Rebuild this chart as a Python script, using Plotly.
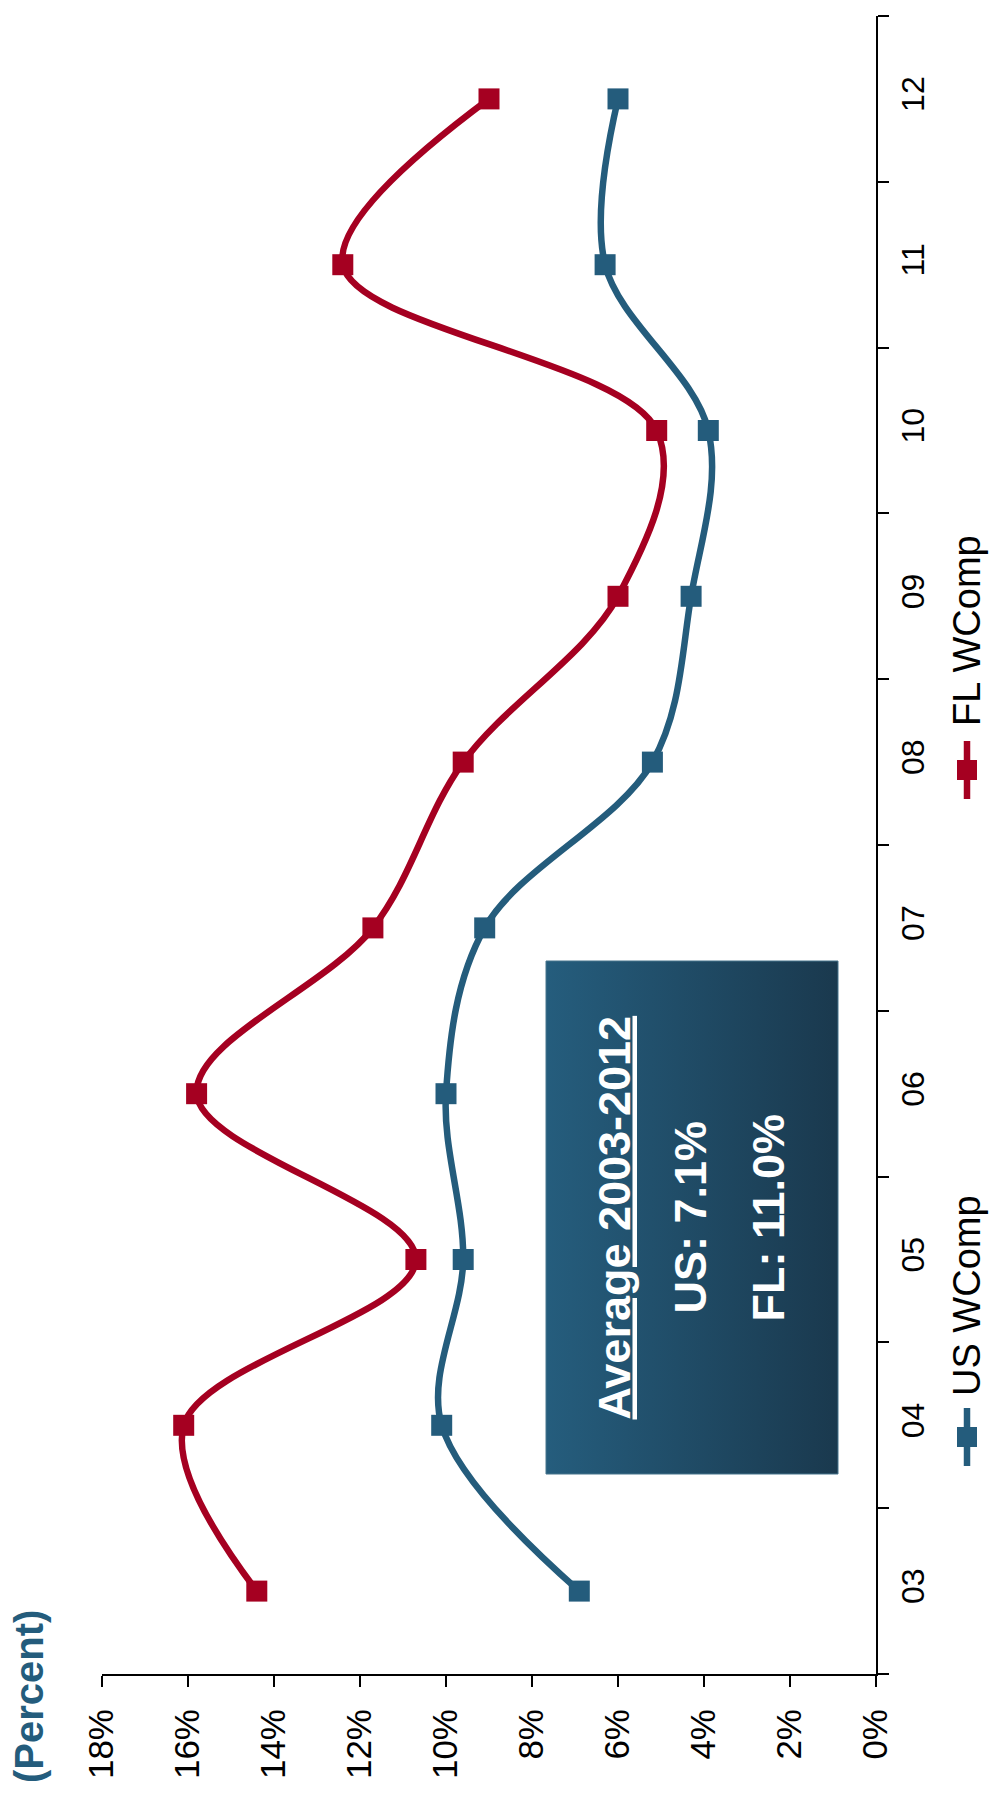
import plotly.graph_objects as go

# Workers' compensation premium growth, 2003-2012
years = ["03", "04", "05", "06", "07", "08", "09", "10", "11", "12"]
us_wcomp = [6.9, 10.1, 9.6, 10.0, 9.1, 5.2, 4.3, 3.9, 6.3, 6.0]
fl_wcomp = [14.4, 16.1, 10.7, 15.8, 11.7, 9.6, 6.0, 5.1, 12.4, 9.0]
series_names = ["US WComp", "FL WComp"]
avg_title = "Average 2003-2012"
avg_lines = ["US: 7.1%", "FL: 11.0%"]

BLUE = "#245C7C"
RED = "#A50021"
FONT = "Liberation Sans, Arial, sans-serif"
W, H = 990, 1801
LINE_W = 6.5

fig = go.Figure()

for name, vals, color in [(series_names[0], us_wcomp, BLUE), (series_names[1], fl_wcomp, RED)]:
    fig.add_trace(go.Scatter(
        x=vals, y=years, name=name, mode="lines+markers",
        line=dict(color=color, width=LINE_W, shape="spline", smoothing=1),
        marker=dict(symbol="square", size=21, color=color),
        xaxis="x", yaxis="y", showlegend=False, cliponaxis=False,
    ))

# Overlay canvas in page pixels for the callout box and the legend
def px_trace(xs, ys, **kw):
    fig.add_trace(go.Scatter(x=xs, y=ys, xaxis="x2", yaxis="y2",
                             showlegend=False, hoverinfo="skip", **kw))

bx0, bx1, by0, by1 = 546, 838, 961, 1474
px_trace([bx0, bx1, bx1, bx0, bx0], [by0, by0, by1, by1, by0],
         mode="lines", fill="toself",
         fillgradient=dict(type="horizontal",
                           colorscale=[[0, "#255D7D"], [1, "#1A394E"]]),
         line=dict(color="#46748C", width=1))

annotations = []
bcy = (by0 + by1) / 2
annotations.append(dict(x=614, y=bcy, text="<b><u>" + avg_title + "</u></b>"))
annotations.append(dict(x=690, y=bcy, text="<b>" + avg_lines[0] + "</b>"))
annotations.append(dict(x=768, y=bcy, text="<b>" + avg_lines[1] + "</b>"))
for a in annotations:
    a.update(xref="x2", yref="y2", showarrow=False, textangle=-90,
             xanchor="center", yanchor="middle",
             font=dict(family=FONT, size=45, color="white"))

# Axis caption
annotations.append(dict(x=29, y=1697, xref="x2", yref="y2", showarrow=False,
                        textangle=-90, xanchor="center", yanchor="middle",
                        text="<b>(Percent)</b>",
                        font=dict(family=FONT, size=40, color=BLUE)))

# Legend drawn rotated alongside the chart
shapes = []
for name, color, cy, ty in [(series_names[0], BLUE, 1437, 1296),
                            (series_names[1], RED, 770, 631)]:
    lx = 967
    shapes.append(dict(type="line", xref="x2", yref="y2", x0=lx, x1=lx,
                       y0=cy - 29, y1=cy + 29, line=dict(color=color, width=LINE_W)))
    shapes.append(dict(type="rect", xref="x2", yref="y2", x0=lx - 10, x1=lx + 10,
                       y0=cy - 10, y1=cy + 10, fillcolor=color, line=dict(width=0)))
    annotations.append(dict(x=lx, y=ty, xref="x2", yref="y2", showarrow=False,
                            textangle=-90, xanchor="center", yanchor="middle",
                            text=name, font=dict(family=FONT, size=38, color="black")))

axis_common = dict(showline=True, linecolor="black", linewidth=2, ticks="outside",
                   ticklen=11, tickwidth=2, tickcolor="black", showgrid=False,
                   zeroline=False, automargin=False, fixedrange=True)

fig.update_layout(
    width=W, height=H, autosize=False,
    margin=dict(l=0, r=0, t=0, b=0),
    paper_bgcolor="white", plot_bgcolor="rgba(0,0,0,0)",
    font=dict(family=FONT, color="black"),
    xaxis=dict(domain=[102 / W, 876 / W], range=[18, 0], tick0=0, dtick=2,
               ticksuffix="%", tickangle=-90, anchor="y",
               tickfont=dict(size=35), ticklabelstandoff=8, **axis_common),
    yaxis=dict(domain=[1 - 1674 / H, 1 - 16 / H], type="category",
               categoryorder="array", categoryarray=years, range=[-0.5, 9.5],
               tickson="boundaries", side="right", anchor="x", tickangle=-90,
               tickfont=dict(size=32), ticklabelstandoff=8, **axis_common),
    xaxis2=dict(domain=[0, 1], range=[0, W], visible=False, anchor="y2", fixedrange=True),
    yaxis2=dict(domain=[0, 1], range=[H, 0], visible=False, anchor="x2", fixedrange=True),
    annotations=annotations, shapes=shapes, showlegend=False,
)

fig.write_html("out.html")
